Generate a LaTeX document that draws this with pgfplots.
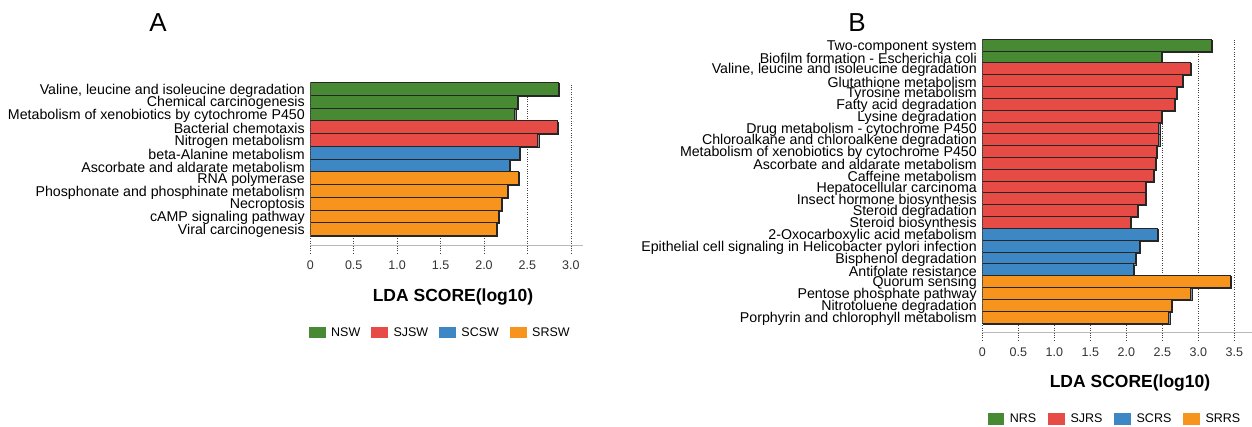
\documentclass[border=0pt]{standalone}
\usepackage{fontspec}
\setmainfont{Liberation Sans}
\usepackage{pgfplots}
\pgfplotsset{compat=1.18}
\usetikzlibrary{shadows}
\definecolor{cgreen}{RGB}{72,137,52}
\definecolor{cred}{RGB}{230,75,69}
\definecolor{cblue}{RGB}{60,135,196}
\definecolor{corange}{RGB}{247,148,30}
\newcommand{\legsq}[1]{\pgfsetfillcolor{#1}\pgfpathrectanglecorners{\pgfpoint{0pt}{-5.8pt}}{\pgfpoint{16.6pt}{5.8pt}}\pgfusepath{fill}}
\pgfplotsset{
  ldastyle/.style={
    scale only axis, enlargelimits=false, xmin=0,
    axis x line=bottom, axis y line=left,
    x axis line style={-, draw=black!28, line width=1.3pt},
    y axis line style={draw=none},
    ytick style={draw=none},
    xmajorgrids, grid style={dotted, black!75, line width=0.6pt},
    xtick style={dotted, black!75, line width=0.6pt},
    tick align=outside, major tick length=7pt,
    xticklabel style={font=\fontsize{12.5}{12.5}\selectfont, text=black!80, yshift=-4.5pt},
    yticklabel style={font=\fontsize{14.2}{14.2}\selectfont, xshift=5pt, yshift=-1.6pt},
    legend columns=4,
    legend style={draw=none, fill=none, inner sep=0pt, outer sep=0pt,
      font=\fontsize{12.5}{12.5}\selectfont,
      nodes={inner sep=0pt},
      /tikz/every odd column/.append style={column sep=5.6pt},
      /tikz/every even column/.append style={column sep=11pt}},
    legend cell align=left,
  },
  mybar/.style={xbar, bar width=1, bar shift=0pt, draw=black!85, line width=0.7pt,
    drop shadow={shadow xshift=1.1pt, shadow yshift=-1.1pt, fill=black!45, opacity=1}},
  gbar/.style={mybar, fill=cgreen, legend image code/.code={\legsq{cgreen}}},
  rbar/.style={mybar, fill=cred, legend image code/.code={\legsq{cred}}},
  bbar/.style={mybar, fill=cblue, legend image code/.code={\legsq{cblue}}},
  obar/.style={mybar, fill=corange, legend image code/.code={\legsq{corange}}},
}
\begin{document}
\begin{tikzpicture}
\path[use as bounding box] (0pt,0pt) rectangle (1252pt,426pt);
% Panel A
\begin{axis}[ldastyle,
  at={(310.3pt,180.3pt)}, anchor=south west,
  width=272.7pt, height=163.1pt,
  xmax=3.14, ymin=-0.31, ymax=12.5,
  xtick={0,0.5,1,1.5,2,2.5,3},
  xticklabels={0,0.5,1.0,1.5,2.0,2.5,3.0},
  ytick={1,...,12},
  yticklabels={Viral carcinogenesis, cAMP signaling pathway, Necroptosis, Phosphonate and phosphinate metabolism, RNA polymerase, Ascorbate and aldarate metabolism, beta-Alanine metabolism, Nitrogen metabolism, Bacterial chemotaxis, Metabolism of xenobiotics by cytochrome P450, Chemical carcinogenesis, {Valine, leucine and isoleucine degradation}},
  legend style={at={(axis description cs:0,0)}, anchor=west, xshift=-1.3pt, yshift=-86.8pt},
]
\addplot[gbar] coordinates {(2.86,12) (2.386,11) (2.355,10)};
\addlegendentry{NSW}
\addplot[rbar] coordinates {(2.84,9) (2.62,8)};
\addlegendentry{SJSW}
\addplot[bbar] coordinates {(2.41,7) (2.29,6)};
\addlegendentry{SCSW}
\addplot[obar] coordinates {(2.40,5) (2.27,4) (2.20,3) (2.16,2) (2.145,1)};
\addlegendentry{SRSW}
\end{axis}
% Panel B
\begin{axis}[ldastyle,
  at={(982.3pt,93.3pt)}, anchor=south west,
  width=269.7pt, height=293.6pt,
  xmax=3.745, ymin=-0.33, ymax=24.5,
  xtick={0,0.5,1,1.5,2,2.5,3,3.5},
  xticklabels={0,0.5,1.0,1.5,2.0,2.5,3.0,3.5},
  ytick={1,...,24},
  yticklabels={Porphyrin and chlorophyll metabolism, Nitrotoluene degradation, Pentose phosphate pathway, Quorum sensing, Antifolate resistance, Bisphenol degradation, Epithelial cell signaling in Helicobacter pylori infection, 2-Oxocarboxylic acid metabolism, Steroid biosynthesis, Steroid degradation, Insect hormone biosynthesis, Hepatocellular carcinoma, Caffeine metabolism, Ascorbate and aldarate metabolism, Metabolism of xenobiotics by cytochrome P450, Chloroalkane and chloroalkene degradation, Drug metabolism - cytochrome P450, Lysine degradation, Fatty acid degradation, Tyrosine metabolism, Glutathione metabolism, {Valine, leucine and isoleucine degradation}, Biofilm formation - Escherichia coli, Two-component system},
  legend style={at={(axis description cs:0,0)}, anchor=west, xshift=5.4pt, yshift=-86.3pt,
    /tikz/every even column/.append style={column sep=12pt}},
]
\addplot[gbar] coordinates {(3.18,24) (2.48,23)};
\addlegendentry{NRS}
\addplot[rbar] coordinates {(2.885,22) (2.78,21) (2.69,20) (2.665,19) (2.48,18) (2.45,17) (2.45,16) (2.41,15) (2.40,14) (2.37,13) (2.265,12) (2.265,11) (2.15,10) (2.05,9)};
\addlegendentry{SJRS}
\addplot[bbar] coordinates {(2.43,8) (2.18,7) (2.12,6) (2.10,5)};
\addlegendentry{SCRS}
\addplot[obar] coordinates {(3.44,4) (2.895,3) (2.63,2) (2.59,1)};
\addlegendentry{SRRS}
\end{axis}
\node[font=\fontsize{26}{26}\selectfont] at (158pt,403pt) {A};
\node[font=\fontsize{26}{26}\selectfont] at (857pt,403.3pt) {B};
\node[font=\fontsize{17.5}{17.5}\selectfont\bfseries] at (453pt,129.3pt) {LDA SCORE(log10)};
\node[font=\fontsize{17.5}{17.5}\selectfont\bfseries] at (1130pt,42.7pt) {LDA SCORE(log10)};
\end{tikzpicture}
\end{document}
